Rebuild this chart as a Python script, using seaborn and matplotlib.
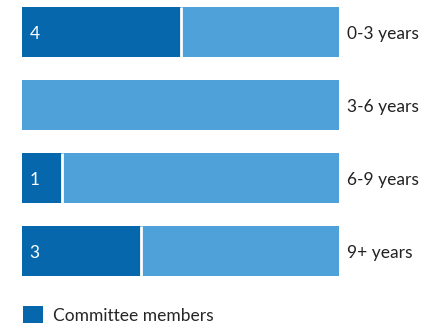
import matplotlib
matplotlib.use("Agg")
import matplotlib.pyplot as plt
import seaborn as sns
import pandas as pd
from matplotlib.patches import Patch

categories = ["0-3 years", "3-6 years", "6-9 years", "9+ years"]
committee = [4, 0, 1, 3]
total = [8, 8, 8, 8]

DARK = "#0767AD"
LIGHT = "#4FA1D9"

sns.set_theme(style="white")
plt.rcParams["font.family"] = ["Lato", "DejaVu Sans"]

df = pd.DataFrame({"cat": categories, "committee": committee, "total": total})

fig = plt.figure(figsize=(4.32, 3.27), dpi=100)
W, H = 432, 327
ax = fig.add_axes([22 / W, 1 - 276 / H, (339 - 22) / W, (276 - 7) / H])

FS = 12.5
bh = 50 / 73
sns.barplot(data=df, y="cat", x="total", color=LIGHT, orient="h", width=bh,
            ax=ax, saturation=1, linewidth=0)
sns.barplot(data=df, y="cat", x="committee", color=DARK, orient="h", width=bh,
            ax=ax, saturation=1, linewidth=0)

for i, (c, t) in enumerate(zip(committee, total)):
    if c > 0:
        ax.vlines(c, i - bh / 2, i + bh / 2, color="white", linewidth=2)
        ax.annotate(str(c), xy=(0, i), xytext=(5.5, -1.5), textcoords="offset points",
                    color="white", va="center", ha="left", fontsize=FS)
    ax.annotate(categories[i], xy=(t, i), xytext=(6, -1.5), textcoords="offset points",
                va="center", ha="left", fontsize=FS, color="#222222",
                annotation_clip=False)

ax.set_xlim(0, 8)
ax.set_ylim(3 + bh / 2, -bh / 2)
ax.set_axis_off()

fig.legend(handles=[Patch(facecolor=DARK, edgecolor="none", label="Committee members")],
           loc="center left", bbox_to_anchor=(23 / W, 1 - 315 / H), frameon=False,
           fontsize=FS, handlelength=1.15, handleheight=1.15, handletextpad=0.55,
           borderpad=0, borderaxespad=0)

fig.savefig("out.png", dpi=100)
